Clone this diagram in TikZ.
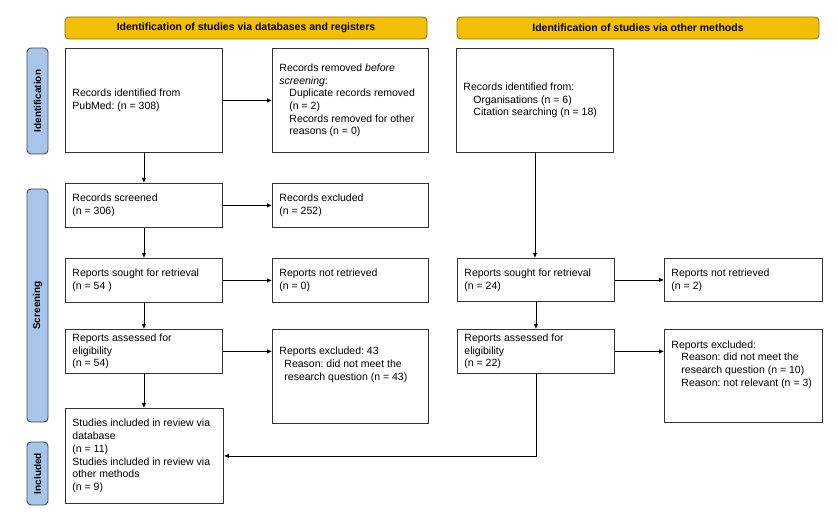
\documentclass[tikz,border=0pt]{standalone}
\usepackage{fontspec}
\setmainfont{Liberation Sans}
\usetikzlibrary{arrows.meta}
\definecolor{hdrfill}{HTML}{F4BF00}
\definecolor{hdrdraw}{HTML}{8A6D2A}
\definecolor{sidefill}{HTML}{A7C4EA}
\definecolor{sidedraw}{HTML}{3A4A66}
\begin{document}
\frenchspacing
\begin{tikzpicture}[x=1pt,y=1pt,
  box/.style={draw=black!80, line width=0.9pt, fill=white, align=flush left, inner xsep=7pt, inner ysep=0pt,
    anchor=north west, font=\fontsize{10.5}{12.7}\selectfont\frenchspacing},
  hdr/.style={draw=hdrdraw, fill=hdrfill, line width=0.8pt, rounded corners=4pt,
    minimum width=362, minimum height=22, inner sep=0pt, font=\fontsize{10.5}{12}\selectfont\bfseries},
  side/.style={draw=sidedraw, fill=sidefill, line width=0.9pt, rounded corners=4pt, rotate=90,
    minimum height=21, inner sep=0pt, font=\fontsize{10}{12}\selectfont\bfseries},
  arr/.style={draw=black, line width=0.8pt, -{Latex[length=5pt,width=4.5pt]}}
]
\useasboundingbox (0,0) rectangle (838,-518);

% headers
\node[hdr] (h1) at (246,-28) {Identification of studies via databases and registers};
\node[hdr] (h2) at (638,-28) {Identification of studies via other methods};

% side labels
\node[side, minimum width=106] (s1) at (37.5,-101) {Identification};
\node[side, minimum width=233] (s2) at (37.5,-305.5) {Screening};
\node[side, minimum width=63] (s3) at (37.5,-473.5) {Included};

% left column
\node[box, minimum width=157, minimum height=104, text width=143] (b1) at (65,-48)
  {Records identified from\\PubMed: (n = 308)};
\node[box, minimum width=157, minimum height=44, text width=143] (scr) at (65,-183)
  {Records screened\\(n = 306)};
\node[box, minimum width=157, minimum height=44, text width=143] (sou) at (65,-258)
  {Reports sought for retrieval\\(n = 54 )};
\node[box, minimum width=157, minimum height=44, text width=143] (ass) at (65,-329)
  {Reports assessed for\\eligibility\\(n = 54)};
\node[box, minimum width=158, minimum height=95, text width=144] (inc) at (65,-408)
  {Studies included in review via\\database\\(n = 11)\\Studies included in review via\\other methods\\(n = 9)};

% left exclusion column
\node[box, minimum width=156, minimum height=104, text width=142] (rem) at (272,-48)
  {Records removed \textit{before}\\\textit{screening}:\\
   \hspace*{10pt}Duplicate records removed\\\hspace*{10pt}(n = 2)\\
   \hspace*{10pt}Records removed for other\\\hspace*{10pt}reasons (n = 0)};
\node[box, minimum width=156, minimum height=44, text width=142] (exc) at (272,-183)
  {Records excluded\\(n = 252)};
\node[box, minimum width=156, minimum height=44, text width=142] (nrt) at (272,-258)
  {Reports not retrieved\\(n = 0)};
\node[box, minimum width=156, minimum height=94, text width=142] (rex) at (272,-329)
  {Reports excluded: 43\\\hspace*{5pt}Reason: did not meet the\\\hspace*{5pt}research question (n = 43)\\\mbox{}\\\mbox{}};

% right column
\node[box, minimum width=157, minimum height=104, text width=143] (oth) at (456,-48)
  {Records identified from:\\\hspace*{10pt}Organisations (n = 6)\\\hspace*{10pt}Citation searching (n = 18)};
\node[box, minimum width=157, minimum height=43, text width=143] (sou2) at (457,-258)
  {Reports sought for retrieval\\(n = 24)};
\node[box, minimum width=157, minimum height=44, text width=143] (ass2) at (457,-329)
  {Reports assessed for\\eligibility\\(n = 22)};
\node[box, minimum width=158, minimum height=43, text width=144] (nrt2) at (664,-258)
  {Reports not retrieved\\(n = 2)};
\node[box, minimum width=158, minimum height=93, text width=144] (rex2) at (664,-329)
  {Reports excluded:\\\hspace*{10pt}Reason: did not meet the\\\hspace*{10pt}research question (n = 10)\\\hspace*{10pt}Reason: not relevant (n = 3)\\\mbox{}\\\mbox{}};

% connectors left
\draw[arr] (b1.south) -- (scr.north);
\draw[arr] (b1.east) -- (rem.west);
\draw[arr] (scr.south) -- (sou.north);
\draw[arr] (scr.east) -- (exc.west);
\draw[arr] (sou.south) -- (ass.north);
\draw[arr] (sou.east) -- (nrt.west);
\draw[arr] (ass.south) -- (ass.south |- inc.north);
\draw[arr] (ass.east) -- (rex.west |- ass.east);

% connectors right
\draw[arr] (oth.south) -- (sou2.north -| oth.south);
\draw[arr] (sou2.south) -- (ass2.north);
\draw[arr] (sou2.east) -- (nrt2.west);
\draw[arr] (ass2.east) -- (rex2.west |- ass2.east);
\draw[arr] (ass2.south) |- (inc.east);
\end{tikzpicture}
\end{document}
